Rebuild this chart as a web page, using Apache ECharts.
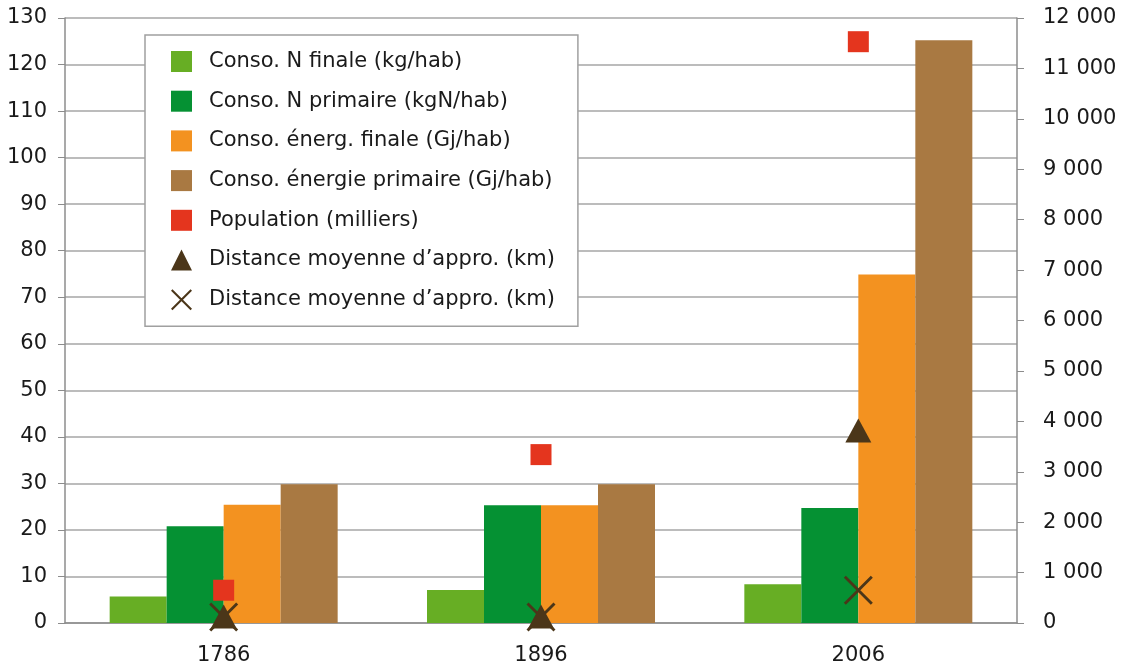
<!DOCTYPE html>
<html>
<head>
<meta charset="utf-8">
<script src="https://cdn.jsdelivr.net/npm/echarts@6/dist/echarts.min.js"></script>
<style>
  html, body { margin: 0; padding: 0; background: #fff; }
  #chart { width: 1127px; height: 670px; }
</style>
</head>
<body>
<div id="chart"></div>
<script>
const categories = ['1786', '1896', '2006'];
const nFinale = [5.7, 7.1, 8.3];
const nPrimaire = [20.8, 25.3, 24.7];
const energFinale = [25.4, 25.3, 74.9];
const energiePrimaire = [29.8, 29.8, 125.2];
const population = [650, 3340, 11530];
const distanceTriangle = [130, 130, 3820];
const distanceCross = [120, 120, 650];

const FONT = '"DejaVu Sans", sans-serif';
const TEXT = '#1a1a1a';
const crossPath = 'path://M0,7L7,0L100,93L93,100Z M93,0L100,7L7,100L0,93Z';

const fmtSpace = v => String(v).replace(/\B(?=(\d{3})+(?!\d))/g, ' ');

const chart = echarts.init(document.getElementById('chart'));

const barSeries = (name, data, color) => ({
  name,
  type: 'bar',
  yAxisIndex: 0,
  barWidth: 57,
  barGap: '0%',
  itemStyle: { color },
  data
});

const DIST = 'Distance moyenne d’appro. (km)';

chart.setOption({
  animation: false,
  textStyle: { fontFamily: FONT },
  grid: { left: 65, right: 110, top: 18, bottom: 47 },
  legend: {
    orient: 'vertical',
    left: 145,
    top: 35,
    padding: [16, 23, 16, 26],
    itemWidth: 21,
    itemHeight: 21,
    itemGap: 18.7,
    backgroundColor: '#fff',
    borderColor: '#a0a0a0',
    borderWidth: 1.5,
    textStyle: { fontFamily: FONT, fontSize: 21, color: TEXT, padding: [0, 0, 0, 12] },
    data: [
      { name: 'Conso. N finale (kg/hab)', icon: 'rect' },
      { name: 'Conso. N primaire (kgN/hab)', icon: 'rect' },
      { name: 'Conso. énerg. finale (Gj/hab)', icon: 'rect' },
      { name: 'Conso. énergie primaire (Gj/hab)', icon: 'rect' },
      { name: 'Population (milliers)', icon: 'rect' },
      DIST,
      DIST + '\u200b'
    ]
  },
  xAxis: {
    type: 'category',
    data: categories,
    axisLine: { lineStyle: { color: '#8c8c8c', width: 1.5 } },
    axisTick: { show: false },
    axisLabel: { fontSize: 21, color: TEXT, margin: 22, fontFamily: FONT }
  },
  yAxis: [
    {
      type: 'value',
      min: 0,
      max: 130,
      interval: 10,
      axisLine: { show: true, lineStyle: { color: '#8c8c8c', width: 1.5 } },
      axisTick: { show: true, length: 7, lineStyle: { color: '#8c8c8c' } },
      splitLine: { lineStyle: { color: '#a6a6a6', width: 1.5 } },
      axisLabel: { fontSize: 21, color: TEXT, margin: 18, fontFamily: FONT }
    },
    {
      type: 'value',
      position: 'right',
      min: 0,
      max: 12000,
      interval: 1000,
      axisLine: { show: true, lineStyle: { color: '#8c8c8c', width: 1.5 } },
      axisTick: { show: true, length: 7, lineStyle: { color: '#8c8c8c' } },
      splitLine: { show: false },
      axisLabel: { fontSize: 21, color: TEXT, margin: 26, fontFamily: FONT, formatter: fmtSpace }
    }
  ],
  series: [
    barSeries('Conso. N finale (kg/hab)', nFinale, '#67ae24'),
    barSeries('Conso. N primaire (kgN/hab)', nPrimaire, '#059133'),
    barSeries('Conso. énerg. finale (Gj/hab)', energFinale, '#f39220'),
    barSeries('Conso. énergie primaire (Gj/hab)', energiePrimaire, '#a97942'),
    {
      name: 'Population (milliers)',
      type: 'scatter',
      yAxisIndex: 1,
      symbol: 'rect',
      symbolSize: 21,
      itemStyle: { color: '#e4351e', opacity: 1 },
      z: 3,
      data: population
    },
    {
      name: DIST,
      type: 'scatter',
      yAxisIndex: 1,
      symbol: 'triangle',
      symbolSize: [26, 24],
      itemStyle: { color: '#4b3619', opacity: 1 },
      z: 5,
      data: distanceTriangle
    },
    {
      name: DIST + '\u200b',
      type: 'scatter',
      yAxisIndex: 1,
      symbol: crossPath,
      symbolSize: 29,
      itemStyle: { color: '#4b3619', opacity: 1 },
      z: 4,
      data: distanceCross
    }
  ]
});
</script>
</body>
</html>
